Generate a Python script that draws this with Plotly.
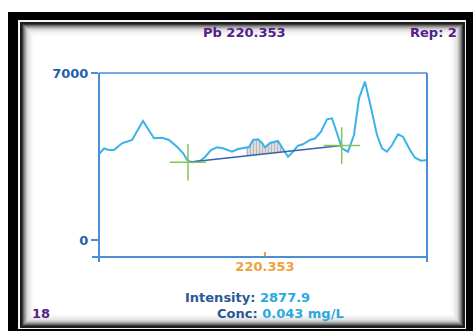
import numpy as np
import plotly.graph_objects as go

# ---- data ----
wavelength = [220.30240, 220.30392, 220.30545, 220.30697, 220.30941, 220.31094, 220.31246,
              220.31581, 220.31917, 220.32161, 220.32374, 220.32618, 220.32801, 220.32953,
              220.33106, 220.33319, 220.33472, 220.33655, 220.33838, 220.34020, 220.34295,
              220.34478, 220.34691, 220.34813, 220.34935, 220.35088, 220.35210, 220.35301,
              220.35453, 220.35575, 220.35697, 220.35850, 220.36002, 220.36124, 220.36307,
              220.36460, 220.36673, 220.36825, 220.37008, 220.37191, 220.37344, 220.37496,
              220.37649, 220.37831, 220.38014, 220.38167, 220.38350, 220.38502, 220.38716,
              220.38868, 220.39021, 220.39173, 220.39356, 220.39508, 220.39722, 220.39874,
              220.40057, 220.40240]
intensity = [3605, 3835, 3772, 3772, 4053, 4129, 4192, 4988, 4263, 4288, 4192, 3911, 3647,
             3311, 3257, 3311, 3479, 3772, 3886, 3844, 3701, 3814, 3869, 3898, 4192, 4221,
             4066, 3886, 4066, 4120, 4150, 3814, 3492, 3659, 3953, 4011, 4192, 4254, 4540,
             5059, 5101, 4473, 3844, 3701, 4401, 5940, 6635, 5730, 4401, 3844, 3701, 3982,
             4431, 4330, 3772, 3450, 3324, 3353]
baseline_x = [220.32953, 220.37639]
baseline_y = [3257, 3961]
window = [220.34722, 220.35880]
center_wl = 220.353
x_range = [220.3024, 220.4024]
y_range = [-712, 7000]
y_ticks = [0, 7000]
title_text = "Pb 220.353"
rep_text = "Rep: 2"
intensity_val = "2877.9"
conc_val = "0.043 mg/L"
sample_no = "18"

# ---- geometry helpers (pixel -> paper) ----
W, H = 473, 334
L, T, R, B = 99, 73, 427, 257
def px(x):
    return (x - L) / (R - L)
def py(y):
    return (B - y) / (B - T)

BLUE = "#4a8fd6"
FONT = "DejaVu Sans"

fig = go.Figure()

# integration window (hatched)
wx = np.linspace(window[0], window[1], 40)
top = np.interp(wx, wavelength, intensity)
bot = np.interp(wx, baseline_x, baseline_y)
fig.add_trace(go.Scatter(
    x=np.concatenate([wx, wx[::-1]]), y=np.concatenate([top, bot[::-1]]),
    mode="lines", fill="toself", line=dict(width=0),
    fillcolor="rgba(0,0,0,0)",
    fillpattern=dict(shape="|", fgcolor="#8c8c8c", bgcolor="#e2e2e2", size=3, solidity=0.4),
    hoverinfo="skip", showlegend=False))

# spectrum
fig.add_trace(go.Scatter(x=wavelength, y=intensity, mode="lines",
                         line=dict(color="#3cb3e8", width=2), showlegend=False))
# baseline
fig.add_trace(go.Scatter(x=baseline_x, y=baseline_y, mode="lines",
                         line=dict(color="#3a5fb0", width=1.5), showlegend=False))
# baseline points (crosses)
fig.add_trace(go.Scatter(x=baseline_x, y=baseline_y, mode="markers",
                         marker=dict(symbol="cross-thin-open", size=26, color="#86c45a",
                                     line=dict(color="#86c45a", width=1.5)),
                         showlegend=False))

shapes = []
# frame
def rect(x0, y0, x1, y1, fill, line=None, lw=0):
    return dict(type="rect", xref="paper", yref="paper", layer="below",
                x0=px(x0), x1=px(x1), y0=py(y1), y1=py(y0),
                fillcolor=fill, line=dict(color=line or fill, width=lw))
shapes.append(rect(8, 12, 473, 331, "black"))
shapes.append(rect(18, 20, 466, 329, "#f4f4f4"))
shapes.append(rect(20, 22, 465, 328, "#1e1e1e"))
for inset, col in [(2, "#3a3a3a"), (3, "#6a6a6a"), (4, "#8c8c8c"), (5, "#aaaaaa"),
                   (6, "#c4c4c4"), (7, "#d8d8d8"), (8, "#e6e6e6"), (10, "#f2f2f2"), (12, "#fbfbfb"),
                   (14, "white")]:
    shapes.append(rect(20 + inset, 22 + inset, 465 - inset, 328 - inset, col))

# plot box lines
def line(x0, y0, x1, y1, color=BLUE, w=2):
    return dict(type="line", xref="paper", yref="paper", layer="above",
                x0=px(x0), x1=px(x1), y0=py(y0), y1=py(y1), line=dict(color=color, width=w))
shapes.append(line(99, 73, 99, 262))
shapes.append(line(427, 73, 427, 262))
shapes.append(line(99, 73, 427, 73, w=1.5))
shapes.append(line(92, 257, 427, 257))

annotations = [
    dict(text=f"<b>{title_text}</b>", x=px(244), y=py(33), xanchor="center", yanchor="middle",
         font=dict(color="#55208a", size=13, family=FONT)),
    dict(text=f"<b>{rep_text}</b>", x=px(459), y=py(33), xanchor="right", yanchor="middle",
         font=dict(color="#55208a", size=13, family=FONT)),
    dict(text=f"<b><span style='color:#2b5797'>Intensity:</span> <span style='color:#2aa9e0'>{intensity_val}</span></b>",
         x=px(183), y=py(297), xanchor="left", yanchor="middle", font=dict(size=13, family=FONT)),
    dict(text=f"<b><span style='color:#2b5797'>Conc:</span> <span style='color:#2aa9e0'>{conc_val}</span></b>",
         x=px(215), y=py(313), xanchor="left", yanchor="middle", font=dict(size=13, family=FONT)),
    dict(text=f"<b>{sample_no}</b>", x=px(30), y=py(313), xanchor="left", yanchor="middle",
         font=dict(color="#55208a", size=13, family=FONT)),
]
for a in annotations:
    a.update(xref="paper", yref="paper", showarrow=False)

fig.update_layout(
    width=W, height=H, autosize=False,
    margin=dict(l=L, r=W - R, t=T, b=H - B, pad=0),
    paper_bgcolor="white", plot_bgcolor="rgba(0,0,0,0)",
    shapes=shapes, annotations=annotations, showlegend=False,
    xaxis=dict(range=x_range, showgrid=False, zeroline=False, showline=False,
               tickvals=[center_wl], ticktext=[f"<b>{center_wl:.3f}</b>"],
               ticks="inside", ticklen=5, tickwidth=1.5, tickcolor="#f0a040",
               tickfont=dict(color="#f0a040", size=13, family=FONT)),
    yaxis=dict(range=y_range, showgrid=False, zeroline=False, showline=False,
               tickvals=y_ticks, ticktext=[f"<b>{v}</b>" for v in y_ticks],
               ticks="outside", ticklen=7, tickwidth=2, tickcolor=BLUE,
               tickfont=dict(color="#1f5faa", size=13, family=FONT)),
)

fig.write_html("out.html", config={"displayModeBar": False},
               post_script="document.body.style.margin='0';document.body.style.overflow='hidden';")
